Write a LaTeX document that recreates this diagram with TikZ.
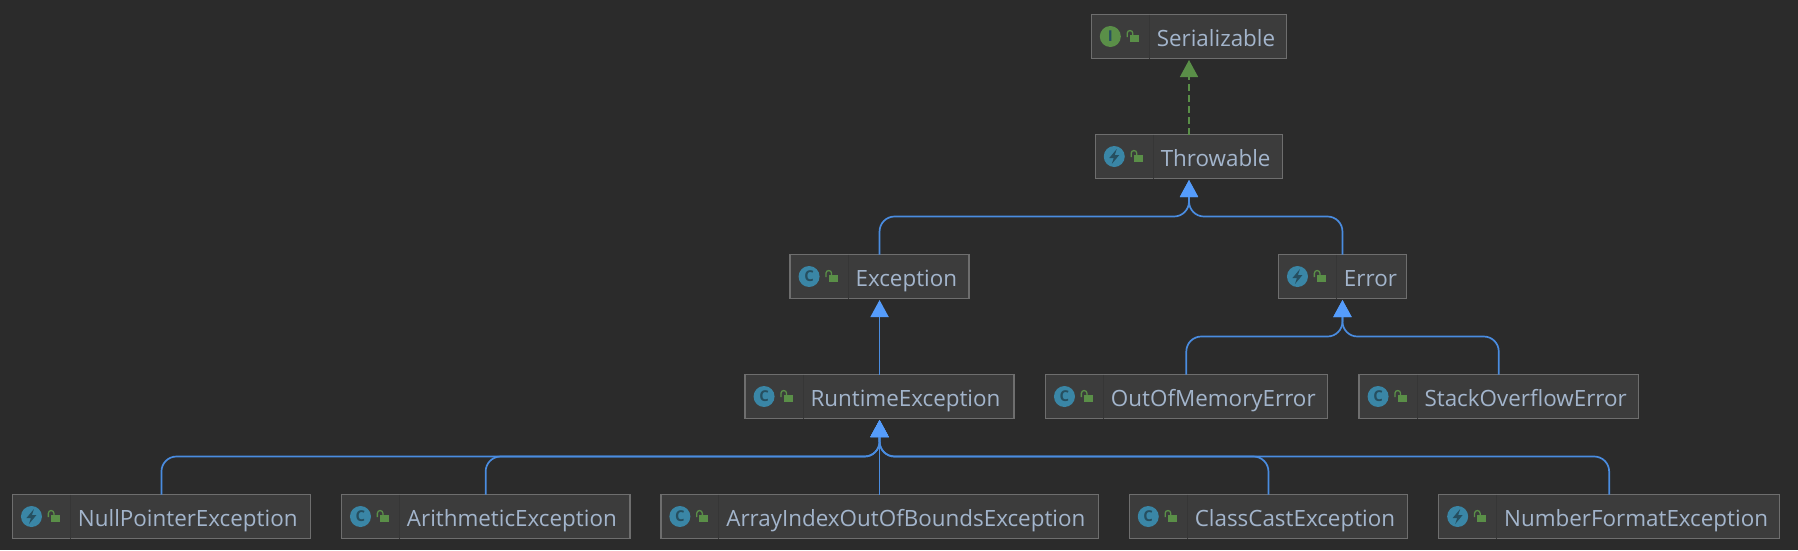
\documentclass[tikz,border=0pt]{standalone}
\usepackage{fontspec}
\setmainfont{Open Sans}
\usetikzlibrary{arrows.meta,positioning}
\definecolor{bgdark}{HTML}{2B2B2B}
\definecolor{boxfill}{HTML}{3C3C3C}
\definecolor{boxline}{HTML}{6E6E6E}
\definecolor{boxsep}{HTML}{363636}
\definecolor{labelcol}{HTML}{A3B5CC}
\definecolor{inhblue}{HTML}{4A8CE0}
\definecolor{inhtip}{HTML}{559CFB}
\definecolor{implgreen}{HTML}{5A8F48}
\definecolor{iconteal}{HTML}{3A86A6}
\definecolor{iconink}{HTML}{264F60}

\begin{document}
\begin{tikzpicture}[
  x=1pt, y=-1pt,
  node distance=76pt and 31pt,
  box/.style={rectangle, draw=boxline, fill=boxfill, line width=1.3pt, outer sep=0pt,
              text=labelcol, font=\fontsize{22.4}{24}\selectfont, align=left,
              text width=#1pt-8pt, inner xsep=4pt, inner ysep=0pt,
              minimum height=44pt, text height=20pt, text depth=0pt,
              execute at begin node={\hspace*{61.5pt}}},
  inh/.style={draw=inhblue, line width=1.7pt, shorten >=1.5pt,
              -{Triangle[length=17pt, width=18pt, color=inhtip]}},
  impl/.style={draw=implgreen, line width=1.5pt, dash pattern=on 7pt off 4pt, shorten >=1.5pt,
               -{Triangle[length=17pt, width=18pt, color=implgreen]}},
  badge/.style={circle, minimum size=21pt, inner sep=0pt, text=iconink,
                font=\fontsize{15}{15}\selectfont\bfseries},
  classicon/.pic={\node[badge, fill=iconteal] {C};},
  ifaceicon/.pic={\node[badge, fill=implgreen] {I};},
  throwicon/.pic={
    \node[badge, fill=iconteal] {};
    \fill[iconink] (2.5,-7.5) -- (-5,1.5) -- (-0.5,1.5) -- (-2.5,7.5) -- (5,-1.5) -- (0.5,-1.5) -- cycle;},
  lockicon/.pic={
    \fill[implgreen] (0,-1.5) rectangle (9,5);
    \draw[implgreen, line width=1.3pt] (-2.6,0.5) -- (-2.6,-3.2) arc[start angle=-180, end angle=0, radius=2.8] -- (3,-1.5);}]
  \fill[bgdark] (0,0) rectangle (1798,550);

  \node[box=195.4, at={(1189,36.5)}] (ser) {Serializable};
  \node[box=187.5, below=of ser] (thr) {Throwable};
  \node[box=179, below left=76pt and 126.2pt of thr] (exc) {Exception};
  \node[box=128, below right=76pt and -4.3pt of thr] (err) {Error};
  \node[box=269, below=of exc] (rex) {RuntimeException};
  \node[box=281.7, below left=76pt and -48.7pt of err] (oom) {OutOfMemoryError};
  \node[box=279.4, below right=76pt and -47.4pt of err] (sof) {StackOverflowError};
  \node[box=437.4, below=of rex] (aio) {ArrayIndexOutOfBoundsException};
  \node[box=288.4, left=of aio] (aex) {ArithmeticException};
  \node[box=298, left=of aex] (npe) {NullPointerException};
  \node[box=278.4, right=of aio] (cce) {ClassCastException};
  \node[box=341, right=of cce] (nfe) {NumberFormatException};

  % icon column of each box
  \foreach \n/\k in {ser/ifaceicon, thr/throwicon, exc/classicon, err/throwicon, rex/classicon,
                     oom/classicon, sof/classicon, npe/throwicon, aex/classicon, aio/classicon,
                     cce/classicon, nfe/throwicon} {
    \draw[boxsep, line width=1pt] ([xshift=58pt]\n.north west) -- ([xshift=58pt]\n.south west);
    \pic at ([xshift=19pt]\n.west) {\k};
    \pic at ([xshift=38.5pt]\n.west) {lockicon};
  }

  \draw[impl] (thr.north) -- (ser.south);
  \foreach \kid in {exc, err}
    \draw[inh] (\kid.north) [rounded corners=15pt] |- ([yshift=-38pt]thr.south) [rounded corners=9pt] -- (thr.south);
  \foreach \kid in {oom, sof}
    \draw[inh] (\kid.north) [rounded corners=15pt] |- ([yshift=-38pt]err.south) [rounded corners=9pt] -- (err.south);
  \draw[inh] (rex.north) -- (exc.south);
  \draw[inh] (aio.north) -- (rex.south);
  \foreach \kid in {npe, aex, cce, nfe}
    \draw[inh] (\kid.north) [rounded corners=15pt] |- ([yshift=-38pt]rex.south) [rounded corners=9pt] -- (rex.south);
\end{tikzpicture}
\end{document}
